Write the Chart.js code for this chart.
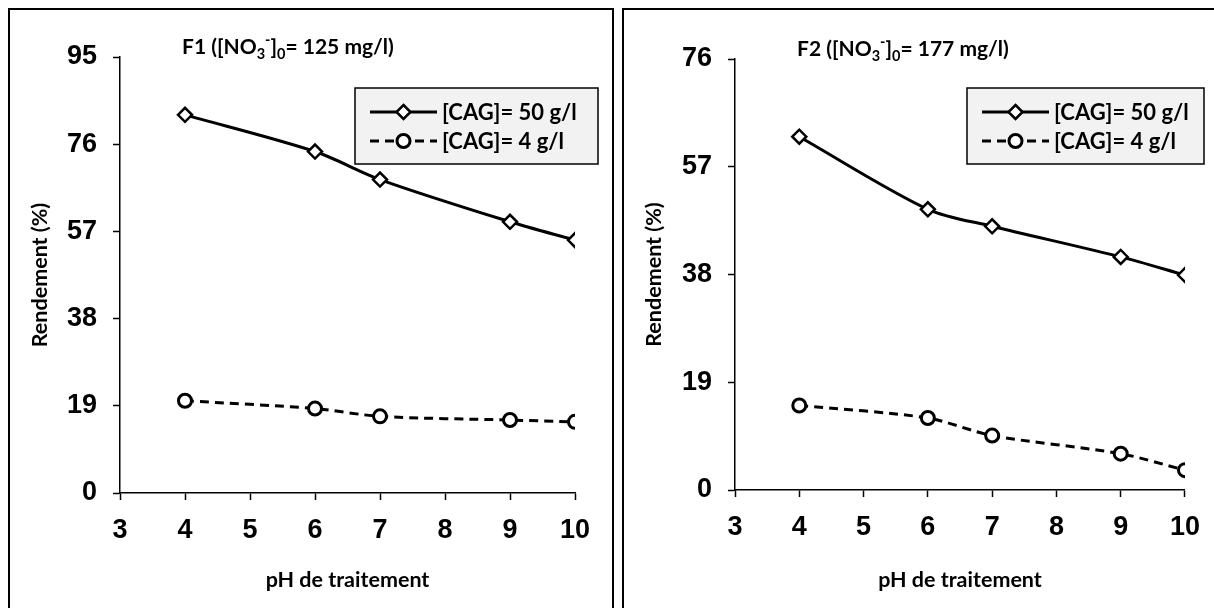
<!DOCTYPE html>
<html>
<head>
<meta charset="utf-8">
<script src="https://cdn.jsdelivr.net/npm/chart.js@4.4.1/dist/chart.umd.min.js"></script>
<style>
  body { margin: 0; background: #fff; width: 1214px; height: 608px; overflow: hidden; position: relative; }
  .panel { position: absolute; top: 8px; box-sizing: border-box; }
  #p1 { left: 8px; width: 606px; height: 610px; border: 2px solid #000; border-bottom: none; }
  #p2 { left: 622px; width: 600px; height: 610px; border: 2px solid #000; border-bottom: none; border-right: none; }
  canvas { position: absolute; left: 0; top: 0; }
</style>
</head>
<body>
<div class="panel" id="p1"><canvas id="c1" width="602" height="598"></canvas></div>
<div class="panel" id="p2"><canvas id="c2" width="590" height="598"></canvas></div>
<script>
// pH values and yields (%)
const phValues = [4, 6, 7, 9, 10];
const f1Cag50 = [82.4, 74.4, 68.3, 59.1, 55.1];
const f1Cag4 = [20.1, 18.4, 16.7, 15.9, 15.5];
const f2Cag50 = [62.3, 49.5, 46.5, 41.1, 37.9];
const f2Cag4 = [14.9, 12.7, 9.6, 6.4, 3.5];
const seriesLabels = ["[CAG]= 50 g/l", "[CAG]= 4 g/l"];
const xRange = [3, 10];
const f1YMax = 95;
const f2YMax = 76;
const yStep = 19;

const tickFont = { family: "'Liberation Sans Narrow', 'Liberation Sans', Arial, sans-serif", size: 27, weight: "bold" };
const textFamily = "Lato, 'Open Sans', sans-serif";
const textSize = 21.5;

// title with sub/superscripts: [text, mode]
function titleParts(name, conc) {
  return [[name + " ([NO", "n"], ["3", "sub"], ["-", "sup"], ["]", "n"], ["0", "sub"], ["= " + conc + " mg/l)", "n"]];
}

const titlePlugin = {
  id: "subTitle",
  afterDraw(chart, args, opts) {
    const ctx = chart.ctx;
    ctx.save();
    ctx.fillStyle = "#000";
    ctx.textBaseline = "alphabetic";
    let x = opts.x;
    const y = opts.y;
    for (const [txt, mode] of opts.parts) {
      const size = mode === "n" ? 21 : 14.5;
      ctx.font = "bold " + size + "px " + textFamily;
      const dy = mode === "sub" ? 5 : mode === "sup" ? -9 : 0;
      ctx.fillText(txt, x, y + dy);
      x += ctx.measureText(txt).width;
    }
    ctx.restore();
  }
};

function drawMarker(ctx, style, x, y, r) {
  ctx.beginPath();
  if (style === "rectRot") {
    ctx.moveTo(x, y - r); ctx.lineTo(x + r, y); ctx.lineTo(x, y + r); ctx.lineTo(x - r, y); ctx.closePath();
  } else {
    ctx.arc(x, y, r, 0, Math.PI * 2);
  }
  ctx.fillStyle = "#fff";
  ctx.fill();
  ctx.stroke();
}

const boxLegendPlugin = {
  id: "boxLegend",
  afterDraw(chart, args, opts) {
    const ctx = chart.ctx;
    const b = opts.box;
    ctx.save();
    ctx.fillStyle = "#f2f2f2";
    ctx.fillRect(b.x, b.y, b.w, b.h);
    ctx.strokeStyle = "#000";
    ctx.lineWidth = 1.5;
    ctx.strokeRect(b.x, b.y, b.w, b.h);
    chart.data.datasets.forEach((ds, i) => {
      const ly = b.y + 24 + i * 29;
      const x0 = b.x + 15, x1 = b.x + 82;
      ctx.strokeStyle = "#000";
      ctx.lineWidth = 3;
      ctx.setLineDash(ds.borderDash || []);
      ctx.beginPath(); ctx.moveTo(x0, ly); ctx.lineTo(x1, ly); ctx.stroke();
      ctx.setLineDash([]);
      ctx.lineWidth = ds.pointBorderWidth;
      drawMarker(ctx, ds.pointStyle, (x0 + x1) / 2, ly, ds.pointRadius);
      ctx.fillStyle = "#000";
      ctx.font = "bold 22px " + textFamily;
      ctx.textBaseline = "middle";
      ctx.fillText(ds.label, x1 + 5, ly + 1);
    });
    ctx.restore();
  }
};

function makeChart(id, cag50, cag4, yMax, pad, title, legendBox) {
  new Chart(document.getElementById(id), {
    type: "line",
    data: {
      datasets: [
        {
          label: seriesLabels[0],
          data: phValues.map((x, i) => ({ x, y: cag50[i] })),
          borderColor: "#000", borderWidth: 3, tension: 0.3,
          pointStyle: "rectRot", pointRadius: 7, pointBorderWidth: 2.5,
          pointBackgroundColor: "#fff", pointBorderColor: "#000"
        },
        {
          label: seriesLabels[1],
          data: phValues.map((x, i) => ({ x, y: cag4[i] })),
          borderColor: "#000", borderWidth: 3, borderDash: [9, 6], tension: 0.3,
          pointStyle: "circle", pointRadius: 6.5, pointBorderWidth: 3,
          pointBackgroundColor: "#fff", pointBorderColor: "#000"
        }
      ]
    },
    options: {
      responsive: false,
      animation: false,
      layout: { padding: { left: 0, top: pad.top, right: pad.right, bottom: 0 } },
      plugins: {
        legend: { display: false },
        tooltip: { enabled: false },
        subTitle: title,
        boxLegend: { box: legendBox }
      },
      scales: {
        x: {
          type: "linear", min: xRange[0], max: xRange[1],
          afterFit: (s) => { s.height = pad.xAxis; },
          ticks: { stepSize: 1, color: "#000", font: tickFont, padding: 14 },
          grid: { drawOnChartArea: false, drawTicks: true, tickLength: 7, tickColor: "#000", tickWidth: 1.5 },
          border: { color: "#000", width: 1.5 },
          title: { display: true, text: "pH de traitement", color: "#000",
                   font: { family: textFamily, size: textSize, weight: "bold" }, padding: { bottom: 15 } }
        },
        y: {
          min: 0, max: yMax,
          afterFit: (s) => { s.width = pad.yAxis; },
          ticks: { stepSize: yStep, color: "#000", font: tickFont, padding: 16 },
          grid: { drawOnChartArea: false, drawTicks: true, tickLength: 7, tickColor: "#000", tickWidth: 1.5 },
          border: { color: "#000", width: 1.5 },
          title: { display: true, text: "Rendement (%)", color: "#000",
                   font: { family: textFamily, size: textSize, weight: "bold" }, padding: { top: 17 } }
        }
      }
    },
    plugins: [titlePlugin, boxLegendPlugin]
  });
}

makeChart("c1", f1Cag50, f1Cag4, f1YMax,
  { top: 47, right: 37, yAxis: 110, xAxis: 115 },
  { x: 172, y: 44, parts: titleParts("F1", 125) },
  { x: 345, y: 78, w: 243, h: 76 });

makeChart("c2", f2Cag50, f2Cag4, f2YMax,
  { top: 49, right: 24, yAxis: 111, xAxis: 118 },
  { x: 173, y: 46, parts: titleParts("F2", 177) },
  { x: 343, y: 78, w: 237, h: 76 });
</script>
</body>
</html>
